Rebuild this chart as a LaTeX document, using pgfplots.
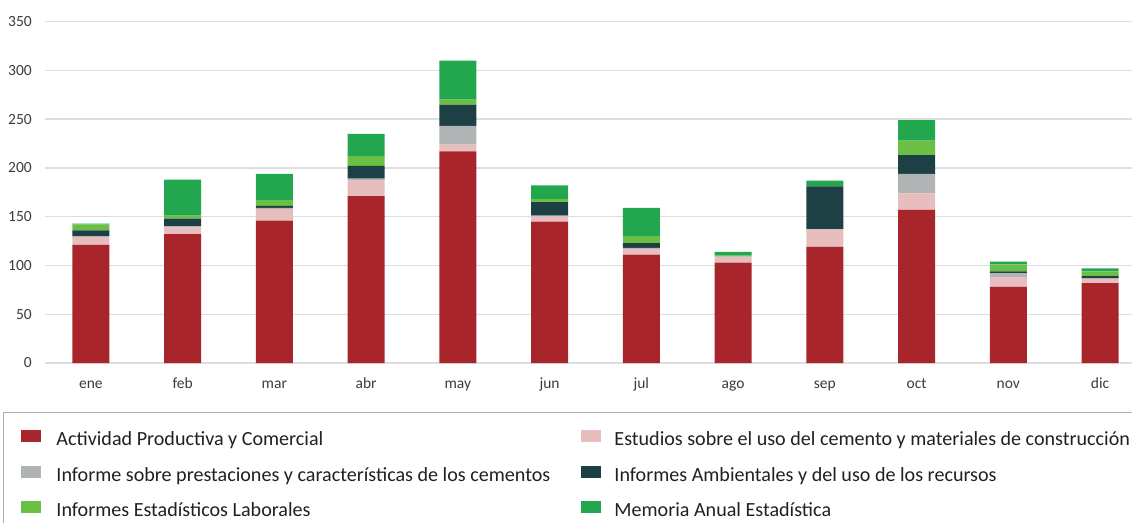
\documentclass[border=0pt]{standalone}
\usepackage{pgfplots}
\pgfplotsset{compat=1.18}
\usepackage{fontspec}
\setmainfont{Carlito}
\definecolor{cRed}{HTML}{A8252B}
\definecolor{cPink}{HTML}{E8BDBE}
\definecolor{cGray}{HTML}{B1B4B5}
\definecolor{cDark}{HTML}{1C4043}
\definecolor{cLight}{HTML}{6BBF45}
\definecolor{cGreen}{HTML}{22A64E}
\definecolor{cGrid}{HTML}{DEDEDE}
\definecolor{cTick}{HTML}{3C3C3C}
\definecolor{cBorder}{HTML}{A3B5AB}
\newcommand{\colA}[1]{\makebox[525pt][l]{#1}}
\newcommand{\colB}[1]{\makebox[520pt][l]{#1}}
\begin{document}
\begin{tikzpicture}
\useasboundingbox (0,0) rectangle (1132pt,522pt);
\clip (0,0) rectangle (1132pt,522pt);
\begin{axis}[
  at={(45pt,159pt)}, anchor=south west,
  scale only axis, width=1100.9pt, height=341.4pt,
  xmin=-0.5, xmax=11.5, ymin=0, ymax=350,
  ybar stacked, bar width=37pt,
  axis line style={draw=none}, tick style={draw=none},
  ymajorgrids, grid style={cGrid, line width=1.3pt},
  ytick={0,50,...,350},
  xtick={0,...,11},
  xticklabels={ene,feb,mar,abr,may,jun,jul,ago,sep,oct,nov,dic},
  /pgf/number format/assume math mode=true,
  ticklabel style={font=\fontsize{15.5}{18}\selectfont, text=cTick},
  xticklabel style={anchor=base, yshift=-25pt},
  yticklabel style={anchor=east, inner sep=0pt, xshift=-13pt},
  legend columns=2,
  legend image code/.code={\fill[#1] (0pt,3.5pt) rectangle (20pt,15.5pt);},
  legend style={at={(-0.0379,-0.1435)}, anchor=north west,
    draw=cBorder, line width=1pt, inner xsep=17.7pt, inner ysep=18pt,
    font=\fontsize{20.1}{24}\selectfont, text=black!87,
    row sep=15pt,
    nodes={inner sep=0pt, text height=14pt, text depth=5pt, anchor=base west},
    /tikz/column 1/.style={column sep=15pt},
    /tikz/column 2/.style={column sep=0pt},
    /tikz/column 3/.style={column sep=13pt},
  },
]
\addplot[fill=cRed, draw=none] coordinates {(0,121) (1,132) (2,146) (3,171) (4,217) (5,145) (6,111) (7,103) (8,119) (9,157) (10,78) (11,82)};
\addlegendentry{\colA{Actividad Productiva y Comercial}}
\addplot[fill=cPink, draw=none] coordinates {(0,8) (1,7) (2,12) (3,16) (4,7) (5,5) (6,6) (7,6) (8,18) (9,17) (10,10) (11,4)};
\addlegendentry{\colB{Estudios sobre el uso del cemento y materiales de construcción}}
\addplot[fill=cGray, draw=none] coordinates {(0,1) (1,1) (2,1) (3,2) (4,19) (5,1) (6,1) (7,0) (8,0) (9,20) (10,4) (11,1)};
\addlegendentry{\colA{Informe sobre prestaciones y características de los cementos}}
\addplot[fill=cDark, draw=none] coordinates {(0,6) (1,8) (2,2) (3,13) (4,22) (5,14) (6,5) (7,0) (8,44) (9,19) (10,2) (11,2)};
\addlegendentry{\colB{Informes Ambientales y del uso de los recursos}}
\addplot[fill=cLight, draw=none] coordinates {(0,6) (1,3) (2,6) (3,10) (4,5) (5,3) (6,7) (7,1) (8,0) (9,15) (10,7) (11,5)};
\addlegendentry{\colA{Informes Estadísticos Laborales}}
\addplot[fill=cGreen, draw=none] coordinates {(0,1) (1,37) (2,27) (3,23) (4,40) (5,14) (6,29) (7,4) (8,6) (9,21) (10,3) (11,3)};
\addlegendentry{\colB{Memoria Anual Estadística}}
\end{axis}
\end{tikzpicture}
\end{document}
